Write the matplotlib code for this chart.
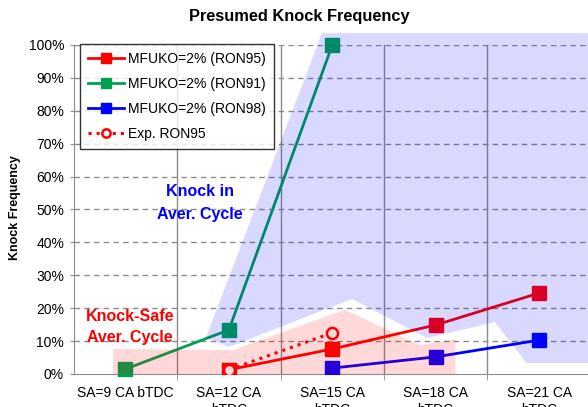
import numpy as np
import matplotlib.pyplot as plt
from matplotlib.patches import Polygon

plt.rcParams['font.family'] = ['Liberation Sans', 'DejaVu Sans']

# --- data ---
categories = ["SA=9 CA bTDC", "SA=12 CA\nbTDC", "SA=15 CA\nbTDC",
              "SA=18 CA\nbTDC", "SA=21 CA\nbTDC"]
x_ron95 = [1, 2, 3, 4]
ron95 = [0.013, 0.076, 0.149, 0.246]
x_ron91 = [0, 1, 2]
ron91 = [0.015, 0.134, 1.0]
x_ron98 = [2, 3, 4]
ron98 = [0.018, 0.052, 0.103]
x_exp95 = [1, 2]
exp95 = [0.013, 0.125]

# shaded regions (category index, knock frequency)
knock_region = [(1.90, 1.036), (4.6, 1.036), (4.6, 0.033), (3.88, 0.033),
                (3.57, 0.158), (2.92, 0.109), (2.19, 0.228), (1.0, 0.082),
                (0.78, 0.112)]
safe_region = [(-0.12, 0.0), (-0.12, 0.076), (1.04, 0.073), (2.12, 0.195),
               (2.85, 0.088), (3.19, 0.106), (3.19, 0.0)]

fig = plt.figure(figsize=(5.88, 4.07), dpi=100)
ax = fig.add_axes([0.1255, 0.0811, 0.8793, 0.8084])

grid_c = '#8c8c8c'
ax.set_xlim(-0.5, 4.5)
ax.set_ylim(0, 1.0)

for yv in np.arange(0.1, 1.01, 0.1):
    ax.axhline(yv, color=grid_c, lw=1, ls=(0, (4, 3)), zorder=1)
for xv in [0.5, 1.5, 2.5, 3.5]:
    ax.axvline(xv, color=grid_c, lw=1, zorder=1)

ax.plot(x_ron95, ron95, color='#ff0000', lw=2, marker='s', ms=9.5,
        label='MFUKO=2% (RON95)', zorder=3)
ax.plot(x_ron91, ron91, color='#00a050', lw=2, marker='s', ms=9.5,
        label='MFUKO=2% (RON91)', zorder=3, clip_on=False)
ax.plot(x_ron98, ron98, color='#0000ff', lw=2, marker='s', ms=9.5,
        label='MFUKO=2% (RON98)', zorder=3)
ax.plot(x_exp95, exp95, color='#ff0000', lw=2.2, ls=':', marker='o', ms=8,
        mfc='white', mec='#ff0000', mew=1.8, label='Exp. RON95', zorder=4)

ax.add_patch(Polygon(knock_region, closed=True, facecolor='#0000ff',
                     alpha=0.15, edgecolor='none', zorder=5, clip_on=False))
ax.add_patch(Polygon(safe_region, closed=True, facecolor='#ff0000',
                     alpha=0.15, edgecolor='none', zorder=5))

ax.text(0.72, 0.52, "Knock in\nAver. Cycle", color='#0000ff', fontsize=11.5,
        fontweight='bold', ha='center', va='center', linespacing=1.6, zorder=6)
ax.text(0.045, 0.144, "Knock-Safe\nAver. Cycle", color='#ff0000', fontsize=11.5,
        fontweight='bold', ha='center', va='center', linespacing=1.5, zorder=6)

ax.set_yticks(np.arange(0, 1.01, 0.1))
ax.set_yticklabels([f"{int(round(v * 100))}%" for v in np.arange(0, 1.01, 0.1)],
                   fontsize=10)
ax.set_xticks(range(len(categories)))
ax.set_xticklabels(categories, fontsize=10)
ax.tick_params(axis='x', length=0, pad=9)
ax.set_xticks([0.5, 1.5, 2.5, 3.5], minor=True)
ax.tick_params(axis='x', which='minor', length=4, color=grid_c)
ax.tick_params(axis='y', length=3, color=grid_c, pad=4)

for side in ['top', 'right']:
    ax.spines[side].set_visible(False)
for side in ['left', 'bottom']:
    ax.spines[side].set_color(grid_c)
    ax.spines[side].set_zorder(2)

leg = ax.legend(loc='upper left', bbox_to_anchor=(0.012, 1.003), borderaxespad=0,
                fontsize=10, frameon=True, fancybox=False, markerscale=0.75,
                handlelength=2.6, handletextpad=0.25, labelspacing=0.78,
                borderpad=0.6)
leg.get_frame().set_edgecolor('black')
leg.get_frame().set_linewidth(1)
leg.set_zorder(10)

fig.text(0.509, 1 - 17 / 407, "Presumed Knock Frequency", fontsize=11.8,
         fontweight='bold', ha='center', va='center')
fig.text(15 / 588, 1 - 208 / 407, "Knock Frequency", fontsize=9,
         fontweight='bold', ha='center', va='center', rotation=90)

fig.savefig('out.png', dpi=100)
